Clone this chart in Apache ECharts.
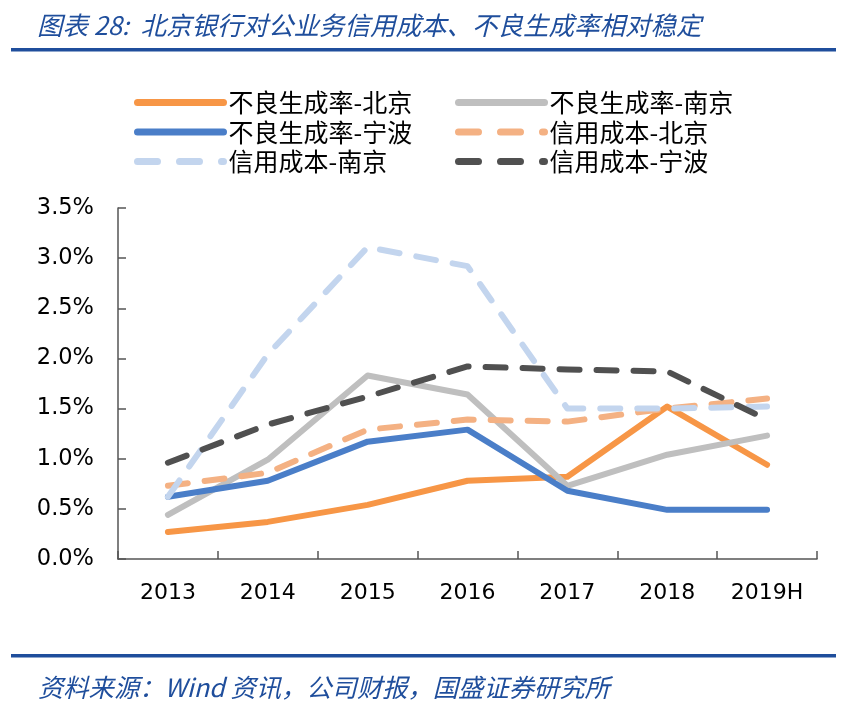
<!DOCTYPE html>
<html><head><meta charset="utf-8">
<script src="https://cdn.jsdelivr.net/npm/echarts@6/dist/echarts.min.js"></script>
<style>html,body{margin:0;padding:0;background:#fff}#c{width:842px;height:707px}</style>
</head><body><div id="c"></div>
<script>
const categories = ['2013','2014','2015','2016','2017','2018','2019H'];
const nplBeijing = [0.27, 0.37, 0.54, 0.78, 0.82, 1.52, 0.94];
const nplNanjing = [0.44, 0.99, 1.83, 1.64, 0.73, 1.04, 1.23];
const nplNingbo = [0.62, 0.78, 1.17, 1.29, 0.68, 0.49, 0.49];
const ccBeijing = [0.73, 0.86, 1.29, 1.39, 1.37, 1.50, 1.60];
const ccNanjing = [0.62, 2.04, 3.11, 2.92, 1.50, 1.50, 1.52];
const ccNingbo = [0.96, 1.34, 1.62, 1.92, 1.89, 1.87, 1.39];
const yTicks = {min: 0, max: 3.5, interval: 0.5};
const names = ['不良生成率-北京','不良生成率-南京','不良生成率-宁波','信用成本-北京','信用成本-南京','信用成本-宁波'];
const colors = ['#F79646','#BFBFBF','#4A7EC8','#F4B183','#C3D5EE','#505050'];
const dashed = [false, false, false, true, true, true];

const chart = echarts.init(document.getElementById('c'));
const blue = '#1F4E9C';
function mk(i, data) {
  return {
    name: names[i], type: 'line', data, symbol: 'none',
    lineStyle: {color: colors[i], width: 6, type: dashed[i] ? [20, 17] : 'solid', cap: 'round', join: 'round'},
    itemStyle: {color: colors[i]}
  };
}
function legItem(i) {
  return {name: names[i], itemStyle: {opacity: 0},
    lineStyle: {color: colors[i], width: 7, type: dashed[i] ? [20, 22] : 'solid', cap: 'round', opacity: 1}};
}
const legendText = {fontSize: 25, lineHeight: 25, color: '#000', fontFamily: 'Noto Sans CJK SC'};
const legBase = {orient: 'vertical', top: 90, itemWidth: 86, itemHeight: 14, itemGap: 4.5,
  textStyle: legendText, selectedMode: false, padding: 0};
chart.setOption({
  animation: false,
  title: [
    {text: '图表 28:  北京银行对公业务信用成本、不良生成率相对稳定', left: 32, top: 8,
     textStyle: {fontSize: 25.5, fontStyle: 'italic', fontWeight: 'normal', color: blue, fontFamily: 'Noto Sans CJK SC'}},
    {text: '资料来源：Wind 资讯，公司财报，国盛证券研究所', left: 33, top: 670,
     textStyle: {fontSize: 25.3, fontStyle: 'italic', fontWeight: 'normal', color: blue, fontFamily: 'Noto Sans CJK SC'}}
  ],
  graphic: [
    {type: 'rect', shape: {x: 11, y: 48, width: 825, height: 3.5}, style: {fill: blue}},
    {type: 'rect', shape: {x: 11, y: 654, width: 825, height: 3.5}, style: {fill: blue}}
  ],
  legend: [
    Object.assign({left: 134, data: [legItem(0), legItem(2), legItem(4)]}, legBase),
    Object.assign({left: 455, data: [legItem(1), legItem(3), legItem(5)]}, legBase)
  ],
  grid: {left: 118, right: 25, top: 208, bottom: 148, containLabel: false},
  xAxis: {
    type: 'category', data: categories, boundaryGap: true,
    axisLine: {lineStyle: {color: '#555', width: 1.5}},
    axisTick: {show: true, inside: true, length: 8, lineStyle: {color: '#555', width: 1.5}},
    axisLabel: {fontSize: 22, color: '#000', margin: 23, fontFamily: 'DejaVu Sans'}
  },
  yAxis: {
    type: 'value', min: yTicks.min, max: yTicks.max, interval: yTicks.interval,
    axisLine: {show: true, lineStyle: {color: '#555', width: 1.5}},
    axisTick: {show: true, inside: true, length: 8, lineStyle: {color: '#555', width: 1.5}},
    splitLine: {show: false},
    axisLabel: {fontSize: 22.5, color: '#000', margin: 24, fontFamily: 'DejaVu Sans',
      formatter: v => v.toFixed(1) + '%'}
  },
  series: [
    mk(0, nplBeijing), mk(1, nplNanjing), mk(2, nplNingbo),
    mk(3, ccBeijing), mk(4, ccNanjing), mk(5, ccNingbo)
  ]
});
</script></body></html>
